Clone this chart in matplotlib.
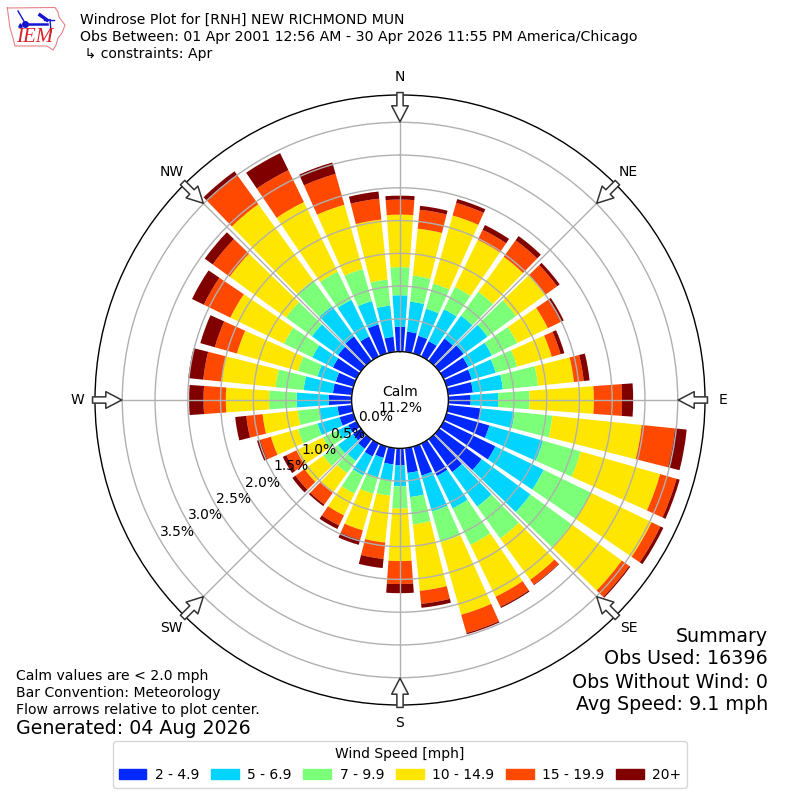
import numpy as np
import matplotlib
matplotlib.use("Agg")
import matplotlib.pyplot as plt
from matplotlib.patches import Patch

directions = np.arange(0, 360, 10)
speed_labels = ["2 - 4.9", "5 - 6.9", "7 - 9.9", "10 - 14.9", "15 - 19.9", "20+"]
speed_colors = ["#0028ff", "#00d4ff", "#7cff79", "#ffe600", "#ff4800", "#800000"]

s2_5 = [.38,.31,.28,.26,.42,.46,.42,.40,.38,.34,.51,.68,.88,.80,.62,.55,.46,.38,
        .26,.25,.18,.22,.18,.15,.14,.22,.22,.35,.29,.28,.40,.43,.46,.34,.46,.23]
s5_7 = [.48,.46,.43,.54,.43,.45,.40,.38,.46,.42,.51,.85,.82,.92,.65,.55,.57,.37,
        .32,.25,.31,.32,.23,.28,.18,.35,.29,.49,.45,.29,.35,.49,.57,.62,.37,.48]
s7_10 = [.43,.40,.40,.38,.45,.54,.43,.34,.54,.48,.58,.60,.80,.77,.60,.62,.49,.42,
         .34,.23,.26,.31,.23,.28,.25,.31,.32,.42,.43,.31,.48,.49,.49,.48,.51,.40]
s10_15 = [.80,.72,1.08,.80,.66,.55,.52,.55,.55,.98,1.37,1.26,1.03,.95,.78,.88,1.15,1.02,
          .80,.72,.58,.37,.37,.35,.45,.43,.54,.66,.83,.97,.91,1.06,1.43,1.18,1.02,.92]
s15_20 = [.23,.29,.20,.17,.31,.22,.22,.14,.15,.43,.51,.26,.15,.14,.09,.17,.29,.20,
          .35,.25,.15,.17,.22,.17,.17,.17,.25,.34,.28,.35,.45,.32,.54,.54,.49,.32]
s20up = [.06,.06,.06,.08,.08,.05,.05,.06,.09,.17,.18,.05,.05,.02,.01,.02,.02,.06,
         .14,.14,.08,.06,.03,.06,.06,.05,.17,.22,.23,.23,.20,.15,.08,.29,.18,.11]
series = [s2_5, s5_7, s7_10, s10_15, s15_20, s20up]

ring_values = [0.0, 0.5, 1.0, 1.5, 2.0, 2.5, 3.0, 3.5]
compass = ["N", "NE", "E", "SE", "S", "SW", "W", "NW"]
compass_deg = [0, 45, 90, 135, 180, 225, 270, 315]

fig = plt.figure(figsize=(8, 8), dpi=100)
ax = fig.add_axes([95/800, 95/800, 610/800, 610/800], projection="polar")
ax.set_theta_zero_location("N")
ax.set_theta_direction(-1)
ax.set_rorigin(-48/65)
ax.set_rmin(0)
ax.set_rmax(257/65)

theta = np.deg2rad(directions)
bottom = np.zeros(len(directions))
for vals, col in zip(series, speed_colors):
    v = np.array(vals)
    ax.bar(theta, v, width=np.deg2rad(8.2), bottom=bottom, color=col, linewidth=0)
    bottom += v

ax.set_rgrids(ring_values, labels=[""] * len(ring_values))
ax.set_thetagrids(compass_deg, compass, fontsize=10)
ax.tick_params(axis="x", pad=2.5)
ax.grid(True, color="#b0b0b0", linewidth=1.0)
for s in ax.spines.values():
    s.set_linewidth(1.0)

for rv in ring_values:
    ax.text(np.deg2rad(240), rv, f"{rv:.1f}%", ha="left", va="bottom", fontsize=10, zorder=6)

for d in compass_deg:
    ax.annotate("", xy=(np.deg2rad(d), 228/65), xytext=(np.deg2rad(d), 257/65),
                annotation_clip=False, zorder=7,
                arrowprops=dict(facecolor="white", edgecolor="#333333", linewidth=1.1,
                                width=4.5, headwidth=12, headlength=11.5, shrink=0))

ax.text(0.5, 0.5, "Calm\n11.2%", transform=ax.transAxes, ha="center", va="center", fontsize=10, zorder=6)

def ftext(x, y, s, **kw):
    fig.text(x/800, 1 - y/800, s, va="center", **kw)

ftext(80, 20, "Windrose Plot for [RNH] NEW RICHMOND MUN", fontsize=10.1)
ftext(80, 37, "Obs Between: 01 Apr 2001 12:56 AM - 30 Apr 2026 11:55 PM America/Chicago", fontsize=10.16)
ftext(80, 54, " \u21b3 constraints: Apr", fontsize=10.1)

ftext(16, 676, "Calm values are < 2.0 mph", fontsize=10.1)
ftext(16, 693, "Bar Convention: Meteorology", fontsize=10.1)
ftext(16, 710, "Flow arrows relative to plot center.", fontsize=10.1)
ftext(16, 729, "Generated: 04 Aug 2026", fontsize=13.7)

ftext(768, 636, "Summary", fontsize=13.7, ha="right")
ftext(768, 659, "Obs Used: 16396", fontsize=13.7, ha="right")
ftext(768, 682, "Obs Without Wind: 0", fontsize=13.7, ha="right")
ftext(768, 705, "Avg Speed: 9.1 mph", fontsize=13.7, ha="right")

handles = [Patch(color=c, label=l) for c, l in zip(speed_colors, speed_labels)]
fig.legend(handles=handles, title="Wind Speed [mph]", ncol=6, fontsize=10, title_fontsize=10,
           columnspacing=0.85, handletextpad=0.6,
           loc="center", bbox_to_anchor=(400/800, 1 - 764.5/800))

# IEM logo
logo = fig.add_axes([0, 1 - 55/800, 75/800, 55/800])
logo.set_xlim(0, 75); logo.set_ylim(55, 0); logo.axis("off")
ox = [7.3, 55, 58, 59, 65, 62, 58, 56, 53, 47, 15, 13, 10, 7.3]
oy = [8, 7.5, 12, 17, 25, 33, 38, 45, 50, 46, 46, 38, 28, 8]
logo.plot(ox, oy, color="#e8808a", lw=0.8)
logo.plot([25, 47], [23.5, 23.5], color="#1515d0", lw=1.8)
logo.plot([25], [23.5], "o", color="#1515d0", ms=4)
logo.plot([18, 25], [11, 23], color="#1515d0", lw=1.0)
logo.plot([40, 47], [15, 20], color="#1515d0", lw=2.5)
logo.plot([44, 54], [19.5, 19.5], color="#1515d0", lw=1.0)
logo.plot([50, 51], [19.5, 32], color="#1515d0", lw=1.0)
logo.plot([20], [25], "^", color="#1515d0", ms=2.5)
logo.text(16.5, 38, "IEM", family="Liberation Serif", style="italic", color="#d8202a",
          fontsize=15, ha="left", va="center")

fig.savefig("out.png", dpi=100)
